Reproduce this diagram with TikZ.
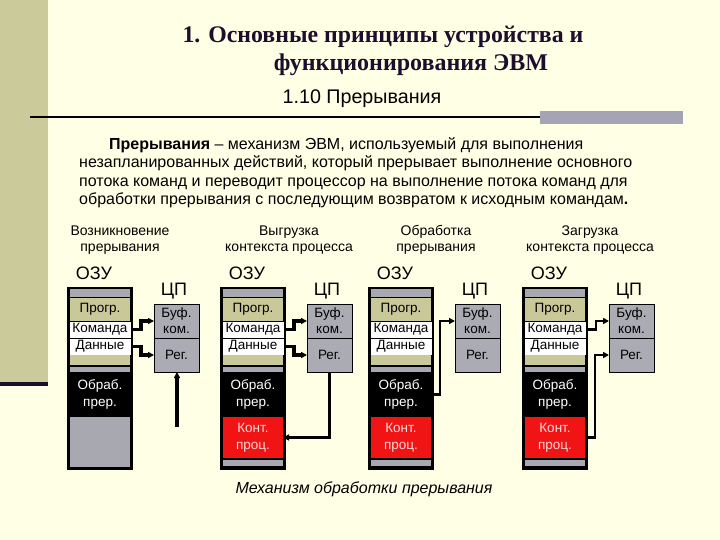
\documentclass[tikz,border=0pt]{standalone}
\usepackage{fontspec}
\setmainfont{Liberation Sans}
\newfontfamily\titlefont{Liberation Serif}
\usetikzlibrary{arrows.meta}
\definecolor{bgc}{HTML}{FFFFE5}
\definecolor{olivec}{HTML}{CACA9A}
\definecolor{cellolive}{HTML}{C8C898}
\definecolor{cellgray}{HTML}{A8A8B0}
\definecolor{cpugray}{HTML}{ABABB3}
\definecolor{redc}{HTML}{F01414}
\definecolor{titlec}{HTML}{1E0E2C}
\definecolor{barc}{HTML}{A4A4B4}
\definecolor{konttext}{HTML}{FFD8D8}
\newcommand\fs[2]{\fontsize{#1}{#2}\selectfont}
\tikzset{
  cell/.style={anchor=north west, inner sep=0pt, outer sep=0pt, minimum width=60, align=center, font=\fs{13.5}{17}},
  ozubox/.style={anchor=north west, fill=black, inner sep=0pt, outer sep=0pt, minimum width=66, minimum height=183},
  graycell/.style={cell, fill=cellgray},
  olivecell/.style={cell, fill=cellolive},
  whitecell/.style={cell, fill=white, draw=black, line width=0.8pt, minimum width=62},
  blackcell/.style={cell, fill=black, text=white},
  redcell/.style={cell, fill=redc, text=konttext},
  cpucell/.style={anchor=north west, inner sep=0pt, outer sep=0pt, fill=cpugray, draw=black, line width=0.6pt, minimum width=45, minimum height=34, align=center, font=\fs{13.5}{16}},
  biglbl/.style={inner sep=0pt, font=\fs{18}{20}},
  hdr/.style={inner sep=0pt, align=center, font=\fs{14}{16}},
  parline/.style={anchor=base west, inner sep=0pt, font=\fs{16}{18}},
  tip/.tip={Triangle[length=6pt,width=6pt]},
  thickconn/.style={line width=3.2pt, -tip},
  thinconn/.style={line width=2.7pt, -tip},
}
% #1 prefix, #2 left x, #3 lower part: 0 = gray, 1 = red + gray
\newcommand\ozublk[3]{%
  \node[ozubox] (#1ozu) at (#2,287) {};
  \node[biglbl] (#1lab) at (#2+27,273) {ОЗУ};
  \node[graycell, minimum height=8] (#1ga) at (#2+3,289) {};
  \node[olivecell, minimum height=23] (#1prog) at (#2+3,298) {\raisebox{-2pt}{Прогр.}};
  \node[whitecell, minimum height=17] (#1kom) at (#2+2,321) {Команда};
  \node[whitecell, minimum height=17] (#1dan) at (#2+2,338) {Данные};
  \node[olivecell, minimum height=10] (#1gb) at (#2+3,355) {};
  \node[graycell, minimum height=5] (#1gc) at (#2+3,367) {};
  \node[blackcell, minimum height=45] (#1obr) at (#2+3,372) {Обраб.\\прер.};
  \ifnum#3=0
    \node[graycell, minimum height=50] (#1gd) at (#2+3,417) {};
  \else
    \node[redcell, minimum height=41] (#1kon) at (#2+3,417) {Конт.\\проц.};
    \node[graycell, minimum height=6] (#1gd) at (#2+3,460) {};
  \fi
  \node[cpucell] (#1buf) at (#2+87,304) {Буф.\\ком.};
  \node[cpucell] (#1reg) at (#2+87,338) {Рег.};
  \node[biglbl] (#1cpu) at (#2+107,291) {ЦП};
}
\begin{document}
\begin{tikzpicture}[x=1pt,y=-1pt]
\useasboundingbox (0,0) rectangle (720,540);
\fill[bgc] (0,0) rectangle (720,540);
% left strip
\fill[olivec] (0,0) rectangle (48,382);
\fill[titlec] (0,382) rectangle (48,386);
% title
\node[anchor=base, inner sep=0pt, text=titlec, font=\titlefont\bfseries\fs{23.8}{26}] (t1) at (383,43) {1. Основные принципы устройства и};
\node[anchor=base, inner sep=0pt, text=titlec, font=\titlefont\bfseries\fs{24}{26}] (t2) at (411,71) {функционирования ЭВМ};
\node[anchor=base, inner sep=0pt, font=\fs{19.7}{22}] (sub) at (362,104) {1.10 Прерывания};
% rule
\draw[line width=2.5pt] (30,117) -- (540,117);
\fill[barc] (540,111) rectangle (683,124);
% paragraph
\node[parline] (p1) at (109,150) {\textbf{Прерывания} – механизм ЭВМ, используемый для выполнения};
\node[parline] (p2) at (79,168) {незапланированных действий, который прерывает выполнение основного};
\node[parline] (p3) at (79,187) {потока команд и переводит процессор на выполнение потока команд для};
\node[parline] (p4) at (79,205) {обработки прерывания с последующим возвратом к исходным командам\textbf{.}};
% headers
\node[hdr] (h1) at (120,240) {Возникновение\\прерывания};
\node[hdr] (h2) at (289,240) {Выгрузка\\контекста процесса};
\node[hdr] (h3) at (436,240) {Обработка\\прерывания};
\node[hdr] (h4) at (590,240) {Загрузка\\контекста процесса};
% blocks
\ozublk{a}{67}{0}
\ozublk{b}{220}{1}
\ozublk{c}{368}{1}
\ozublk{d}{522}{1}
% connectors col 1
\draw[thickconn] (akom.east) -- ++(10,0) |- (abuf.west);
\draw[thickconn] (adan.east) -- ++(10,0) |- (areg.west);
\coordinate (ain) at (177,427);
\draw[thickconn] (ain) -- (ain |- areg.south);
% col 2
\draw[thickconn] (bkom.east) -- ++(10,0) |- (bbuf.west);
\draw[thickconn] (bdan.east) -- ++(10,0) |- (breg.west);
\draw[thinconn] (breg.south) |- (bkon.east);
% col 3
\draw[thinconn] (cobr.east) -- ++(9,0) |- (cbuf.west);
% col 4
\draw[thinconn] (dkom.east) -- ++(10,0) |- (dbuf.west);
\draw[thinconn] (dkon.east) -- ++(10,0) |- (dreg.west);
% caption
\node[anchor=base, inner sep=0pt, font=\itshape\fs{16}{18}] (cap) at (364,493) {Механизм обработки прерывания};
\end{tikzpicture}
\end{document}
